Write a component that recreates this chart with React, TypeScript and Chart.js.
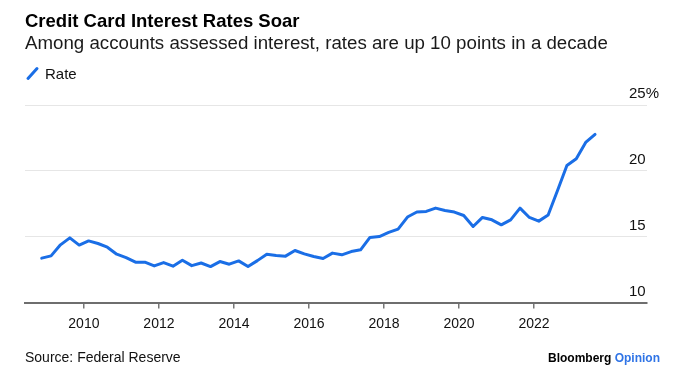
import { useEffect, useRef } from "react";
import { Chart, registerables } from "chart.js";

Chart.register(...registerables);

const titleText = "Credit Card Interest Rates Soar";
const subtitleText = "Among accounts assessed interest, rates are up 10 points in a decade";
const seriesName = "Rate";
const sourceText = "Source: Federal Reserve";
const brandMain = "Bloomberg";
const brandAccent = "Opinion";

const dates = [
  "2008-11",
  "2009-02", "2009-05", "2009-08", "2009-11",
  "2010-02", "2010-05", "2010-08", "2010-11",
  "2011-02", "2011-05", "2011-08", "2011-11",
  "2012-02", "2012-05", "2012-08", "2012-11",
  "2013-02", "2013-05", "2013-08", "2013-11",
  "2014-02", "2014-05", "2014-08", "2014-11",
  "2015-02", "2015-05", "2015-08", "2015-11",
  "2016-02", "2016-05", "2016-08", "2016-11",
  "2017-02", "2017-05", "2017-08", "2017-11",
  "2018-02", "2018-05", "2018-08", "2018-11",
  "2019-02", "2019-05", "2019-08", "2019-11",
  "2020-02", "2020-05", "2020-08", "2020-11",
  "2021-02", "2021-05", "2021-08", "2021-11",
  "2022-02", "2022-05", "2022-08", "2022-11",
  "2023-02", "2023-05", "2023-08",
];

const rates = [
  13.37,
  13.54, 14.38, 14.91, 14.36,
  14.68, 14.48, 14.2, 13.67,
  13.41, 13.06, 13.06, 12.78,
  13.03, 12.76, 13.21, 12.8,
  13.0, 12.73, 13.11, 12.91,
  13.16, 12.73, 13.18, 13.67,
  13.57, 13.52, 13.95, 13.69,
  13.49, 13.34, 13.75, 13.62,
  13.87, 14.0, 14.94, 15.01,
  15.32, 15.57, 16.49, 16.87,
  16.92, 17.17, 16.99, 16.87,
  16.61, 15.77, 16.46, 16.28,
  15.9, 16.28, 17.17, 16.46,
  16.18, 16.64, 18.5, 20.4,
  20.92, 22.16, 22.77,
];

const xTickYears = [2010, 2012, 2014, 2016, 2018, 2020, 2022];
const yTickValues = [10, 15, 20, 25];
const xMin = 2008.43;
const xMax = 2025.01;
const yMin = 10;
const yMax = 25;

const FONT = '"Liberation Sans", Arial, Helvetica, sans-serif';
const BLUE = "#1a6ee6";
const INK = "#111111";

function toYear(d: string): number {
  const [y, m] = d.split("-").map(Number);
  return y + (m - 0.5) / 12;
}

const decorPlugin = {
  id: "decor",
  afterDraw(chart: any) {
    const ctx = chart.ctx as CanvasRenderingContext2D;
    const area = chart.chartArea;
    ctx.save();
    ctx.textBaseline = "alphabetic";
    ctx.textAlign = "left";

    ctx.fillStyle = "#000";
    ctx.font = `bold 18.5px ${FONT}`;
    ctx.fillText(titleText, 25, 27);

    ctx.fillStyle = "#1a1a1a";
    ctx.font = `18.7px ${FONT}`;
    ctx.fillText(subtitleText, 25, 48.5);

    // legend
    ctx.strokeStyle = BLUE;
    ctx.lineWidth = 3;
    ctx.lineCap = "round";
    ctx.beginPath();
    ctx.moveTo(28, 78.5);
    ctx.lineTo(37, 68.5);
    ctx.stroke();
    ctx.fillStyle = INK;
    ctx.font = `15px ${FONT}`;
    ctx.fillText(seriesName, 45, 79);

    // y labels (from the y scale)
    const ys = chart.scales.y;
    ctx.font = `15px ${FONT}`;
    ctx.fillStyle = INK;
    ys.ticks.forEach((t: any) => {
      const label = t.value === yMax ? `${t.value}%` : `${t.value}`;
      ctx.fillText(label, area.right - 18, ys.getPixelForValue(t.value) - 7);
    });

    // footer
    ctx.font = `14px ${FONT}`;
    ctx.fillStyle = INK;
    ctx.fillText(sourceText, 25, 362);

    ctx.font = `bold 12px ${FONT}`;
    ctx.textAlign = "right";
    const accentW = ctx.measureText(brandAccent).width;
    ctx.fillStyle = "#2f74e6";
    ctx.fillText(brandAccent, 660, 362);
    ctx.fillStyle = "#000";
    ctx.fillText(brandMain + " ", 660 - accentW, 362);
    ctx.restore();
  },
};

export default function App() {
  const canvasRef = useRef<HTMLCanvasElement | null>(null);

  useEffect(() => {
    const canvas = canvasRef.current;
    if (!canvas) return;
    const chart = new Chart(canvas, {
      type: "line",
      data: {
        datasets: [
          {
            label: seriesName,
            data: dates.map((d, i) => ({ x: toYear(d), y: rates[i] })),
            borderColor: BLUE,
            backgroundColor: BLUE,
            borderWidth: 3,
            pointRadius: 0,
            tension: 0,
            borderJoinStyle: "round",
            borderCapStyle: "round",
            fill: false,
          },
        ],
      },
      options: {
        responsive: false,
        animation: false,
        events: [],
        layout: { padding: { left: 25, right: 29, top: 105, bottom: 51.5 } },
        plugins: {
          legend: { display: false },
          tooltip: { enabled: false },
          title: { display: false },
        },
        scales: {
          x: {
            type: "linear",
            min: xMin,
            max: xMax,
            afterBuildTicks: (s: any) => {
              s.ticks = xTickYears.map((v) => ({ value: v }));
            },
            afterFit: (s: any) => {
              s.height = 30;
            },
            grid: {
              drawOnChartArea: false,
              drawTicks: true,
              tickLength: 6,
              color: "#777777",
              lineWidth: 1.5,
            },
            border: { display: true, color: "#6e6e6e", width: 2 },
            ticks: {
              color: INK,
              font: { family: FONT, size: 14 },
              padding: 7,
              maxRotation: 0,
              autoSkip: false,
              callback: (v: any) => String(v),
            },
          },
          y: {
            type: "linear",
            position: "right",
            min: yMin,
            max: yMax,
            afterBuildTicks: (s: any) => {
              s.ticks = yTickValues.map((v) => ({ value: v }));
            },
            afterFit: (s: any) => {
              s.width = 0;
            },
            grid: { color: "#e6e6e6", lineWidth: 1, drawTicks: false },
            border: { display: false },
            ticks: { display: false },
          },
        },
      },
      plugins: [decorPlugin],
    } as any);
    return () => chart.destroy();
  }, []);

  return (
    <div style={{ position: "fixed", left: 0, top: 0, width: 676, height: 384, background: "#fff" }}>
      <canvas ref={canvasRef} width={676} height={384} style={{ display: "block", width: 676, height: 384 }} />
    </div>
  );
}
